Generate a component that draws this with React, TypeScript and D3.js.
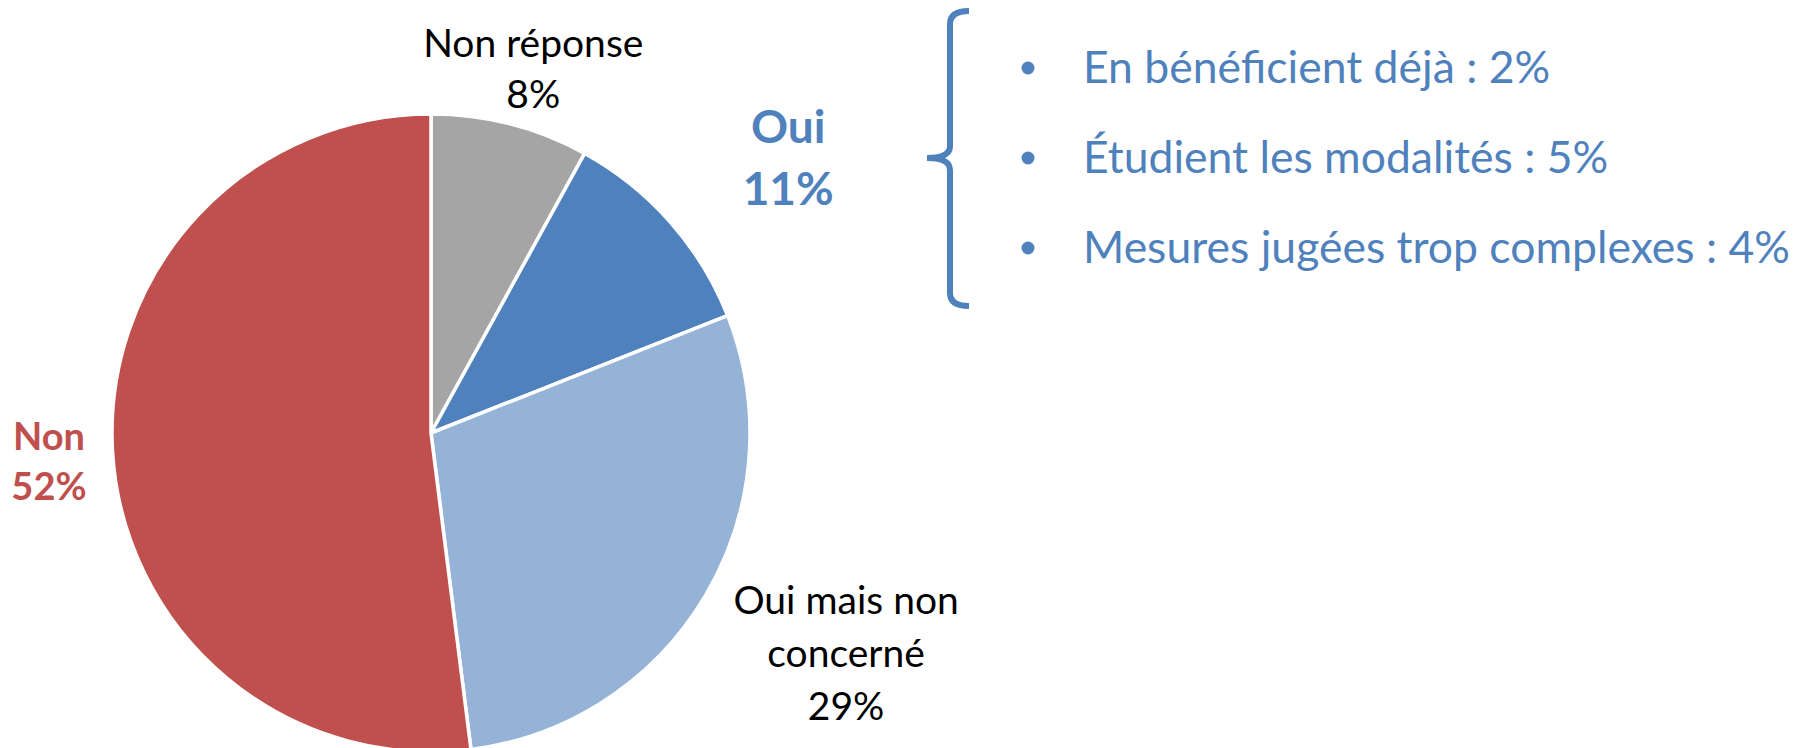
import React from "react";
import * as d3 from "d3";

// slices, clockwise from 12 o'clock
const categories = ["Non réponse", "Oui", "Oui mais non concerné", "Non"];
const values = [8, 11, 29, 52];
const sliceColors = ["#A5A5A5", "#4F81BD", "#95B3D7", "#C0504D"];
const labelLines = [
  ["Non réponse", "8%"],
  ["Oui", "11%"],
  ["Oui mais non", "concerné", "29%"],
  ["Non", "52%"],
];

// breakdown of the "Oui" answers
const detailItems = [
  "En bénéficient déjà",
  "Étudient les modalités",
  "Mesures jugées trop complexes",
];
const detailValues = [2, 5, 4];

const W = 1797;
const H = 748;
const cx = 431;
const cy = 433;
const R = 319;

// label layout (radius factor, nudge, style)
const labelStyle = [
  { f: 1.15, dx: 11, dy: -9, size: 39, lh: 51, weight: 400, color: "#000" },
  { f: 1.38, dx: 27, dy: 16, size: 46, lh: 62, weight: 700, color: "#4F81BD" },
  { f: 1.49, dx: 6, dy: -22, size: 39, lh: 53, weight: 400, color: "#000" },
  { f: 1.2, dx: 0, dy: 5, size: 38, lh: 50, weight: 700, color: "#C0504D" },
];

const font = "Lato, 'Open Sans', sans-serif";

const App = () => {
  const pie = d3
    .pie<number>()
    .sort(null)
    .value((d) => d);
  const arcs = pie(values);
  const arc = d3.arc<d3.PieArcDatum<number>>().innerRadius(0).outerRadius(R);

  const rowY = d3.scalePoint<number>().domain(d3.range(detailItems.length)).range([68, 248]);

  // bracket on the left of the detail list
  const bx = 950;
  const top = 11;
  const bottom = 306;
  const mid = 158;
  const bracket = d3.path();
  bracket.moveTo(bx + 19, top);
  bracket.quadraticCurveTo(bx, top, bx, top + 13);
  bracket.lineTo(bx, mid - 12);
  bracket.quadraticCurveTo(bx, mid, bx - 23, mid);
  bracket.moveTo(bx - 23, mid);
  bracket.quadraticCurveTo(bx, mid, bx, mid + 12);
  bracket.lineTo(bx, bottom - 13);
  bracket.quadraticCurveTo(bx, bottom, bx + 19, bottom);

  return (
    <svg
      width={W}
      height={H}
      style={{ position: "absolute", left: 0, top: 0, background: "#fff" }}
    >
      <g transform={`translate(${cx},${cy})`}>
        {arcs.map((a, i) => (
          <path
            key={categories[i]}
            d={arc(a) || ""}
            fill={sliceColors[i]}
            stroke="#fff"
            strokeWidth={3.5}
            strokeLinejoin="round"
          />
        ))}
        {arcs.map((a, i) => {
          const s = labelStyle[i];
          const lr = R * s.f;
          const [x, y] = d3.arc<d3.PieArcDatum<number>>().innerRadius(lr).outerRadius(lr).centroid(a);
          const lines = labelLines[i];
          return (
            <text
              key={"l" + i}
              x={x + s.dx}
              textAnchor="middle"
              fontFamily={font}
              fontSize={s.size}
              fontWeight={s.weight}
              fill={s.color}
            >
              {lines.map((t, j) => (
                <tspan key={j} x={x + s.dx} y={y + s.dy + (j - (lines.length - 1) / 2) * s.lh + s.size * 0.35}>
                  {t}
                </tspan>
              ))}
            </text>
          );
        })}
      </g>

      <path
        d={bracket.toString()}
        fill="none"
        stroke="#4F81BD"
        strokeWidth={6}
        strokeLinecap="butt"
        strokeLinejoin="round"
      />

      {detailItems.map((t, i) => (
        <g key={t} transform={`translate(0,${rowY(i)})`}>
          <circle cx={1028} cy={0} r={6.5} fill="#4F81BD" />
          <text
            x={1083}
            y={15}
            fontFamily={font}
            fontSize={44.5}
            fill="#4F81BD"
          >
            {`${t} : ${detailValues[i]}%`}
          </text>
        </g>
      ))}
    </svg>
  );
};

export default App;
